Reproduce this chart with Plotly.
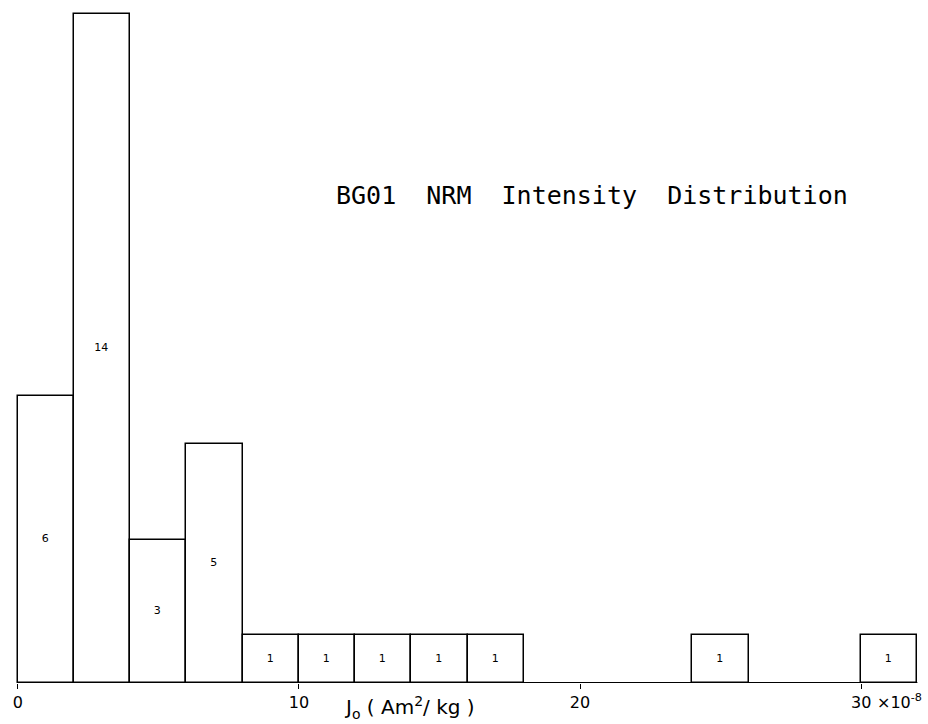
import plotly.graph_objects as go

# Histogram data (bin width 2, units 1e-8 Am^2/kg)
bin_starts = [0, 2, 4, 6, 8, 10, 12, 14, 16, 24, 30]
counts = [6, 14, 3, 5, 1, 1, 1, 1, 1, 1, 1]
bin_width = 2
tick_vals = [0, 10, 20, 30]
tick_text = ["0", "10", "20", "30"]
title_text = "BG01  NRM  Intensity  Distribution"
axis_title = "J<sub>o</sub> ( Am<sup>2</sup>/ kg )"

FONT = "DejaVu Sans"
MONO = "DejaVu Sans Mono"

fig = go.Figure()
fig.add_trace(go.Bar(
    x=[s + bin_width / 2 for s in bin_starts],
    y=counts,
    width=[bin_width] * len(bin_starts),
    text=[str(c) for c in counts],
    textposition="inside",
    insidetextanchor="middle",
    textangle=0,
    textfont=dict(family=FONT, size=11, color="black"),
    marker=dict(color="white", line=dict(color="black", width=1.5)),
    hoverinfo="skip",
))

fig.update_layout(
    width=928, height=724,
    margin=dict(l=15, r=5, t=0, b=41, autoexpand=False),
    paper_bgcolor="white", plot_bgcolor="white",
    showlegend=False,
    bargap=0,
    xaxis=dict(
        range=[-0.1, 32.2], showgrid=False, zeroline=False,
        showline=False, automargin=False,
        tickvals=tick_vals, ticktext=tick_text,
        ticks="outside", ticklen=5, tickcolor="black", tickwidth=1.2,
        tickfont=dict(family=FONT, size=16, color="black"),
    ),
    yaxis=dict(range=[0, 14.3], visible=False, automargin=False),
    uniformtext=dict(minsize=8, mode="show"),
)

# baseline of the histogram
fig.add_shape(type="line", xref="x", yref="y", x0=0, x1=32, y0=0, y1=0,
              line=dict(color="black", width=1.8), layer="above")

fig.add_annotation(
    text=title_text, xref="paper", yref="paper",
    x=0.636, y=0.714, showarrow=False,
    font=dict(family=MONO, size=25, color="black"),
    xanchor="center", yanchor="middle",
)
fig.add_annotation(
    text=axis_title, xref="x", yref="paper",
    x=13.95, y=-0.036, showarrow=False,
    font=dict(family=FONT, size=20, color="black"),
    xanchor="center", yanchor="middle",
)
fig.add_annotation(
    text="×10<sup>-8</sup>", xref="x", yref="paper",
    x=30.5, y=-0.027, showarrow=False,
    font=dict(family=FONT, size=16, color="black"),
    xanchor="left", yanchor="middle",
)

fig.write_html(
    "out.html",
    config={"displayModeBar": False},
    post_script="document.body.style.margin='0';document.body.style.overflow='hidden';",
)
